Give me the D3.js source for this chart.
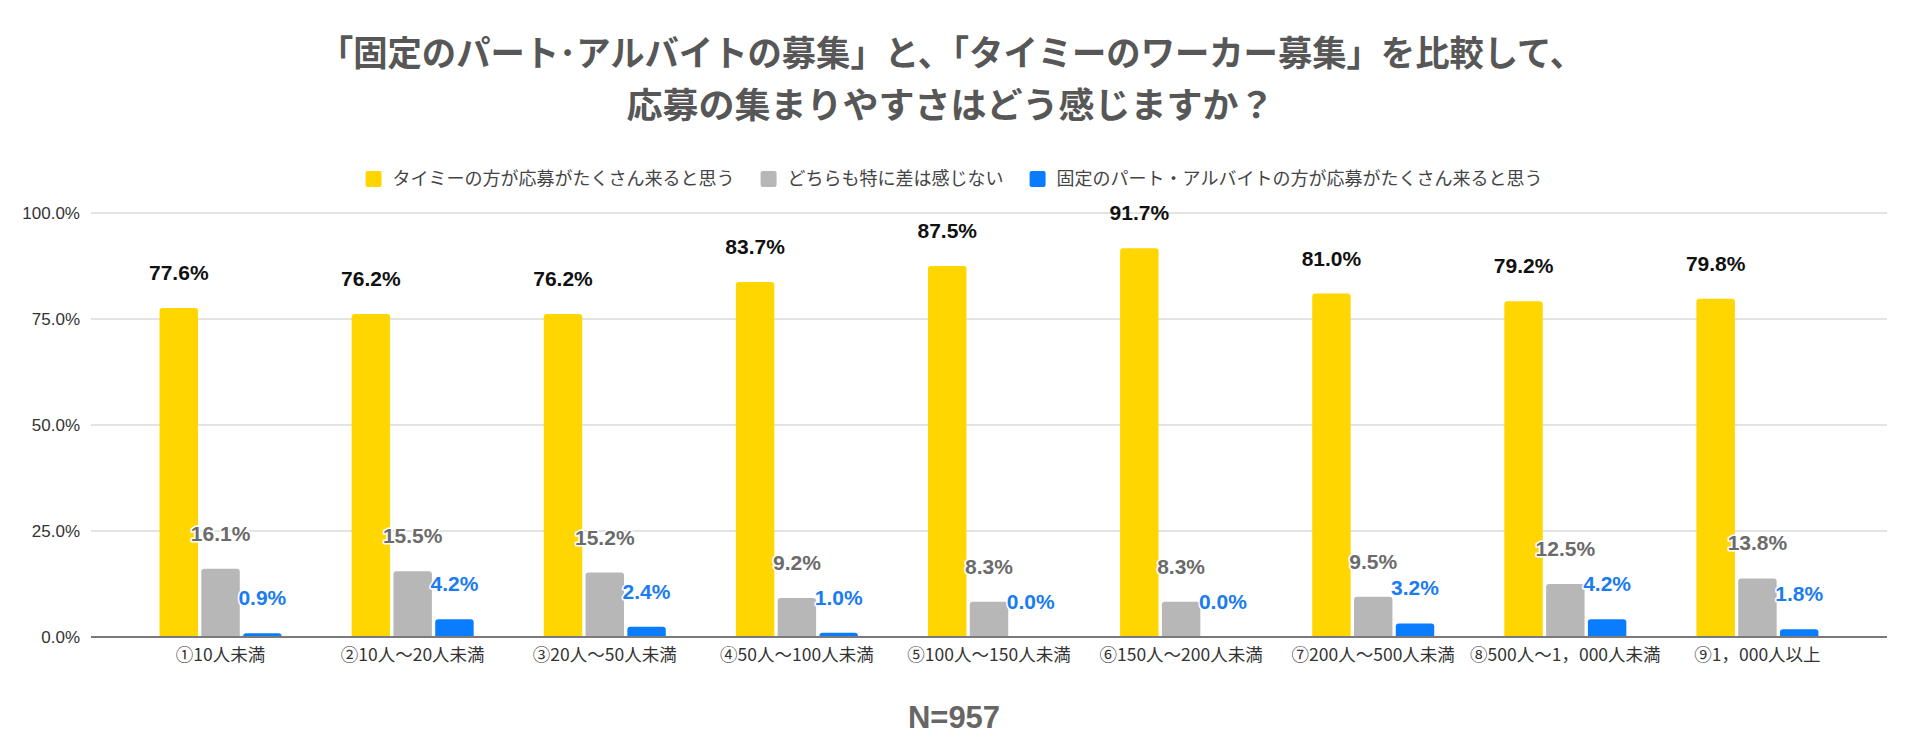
<!DOCTYPE html>
<html>
<head>
<meta charset="utf-8">
<script src="https://cdn.jsdelivr.net/npm/d3@7"></script>
<style>
  html, body { margin: 0; padding: 0; background: #fff; }
  body { position: relative; width: 1906px; height: 748px; overflow: hidden; }
  svg { display: block; }
</style>
</head>
<body>
<svg id="chart" width="1906" height="748"></svg>
<script>
// ---- data ----
const titleLines = [
  "「固定のパート･アルバイトの募集」と、「タイミーのワーカー募集」を比較して、",
  "応募の集まりやすさはどう感じますか？"
];
const categories = [
  "①10人未満", "②10人～20人未満", "③20人～50人未満", "④50人～100人未満",
  "⑤100人～150人未満", "⑥150人～200人未満", "⑦200人～500人未満",
  "⑧500人～1，000人未満", "⑨1，000人以上"
];
const seriesNames = [
  "タイミーの方が応募がたくさん来ると思う",
  "どちらも特に差は感じない",
  "固定のパート・アルバイトの方が応募がたくさん来ると思う"
];
const timeeValues = [77.6, 76.2, 76.2, 83.7, 87.5, 91.7, 81.0, 79.2, 79.8];
const sameValues  = [16.1, 15.5, 15.2, 9.2, 8.3, 8.3, 9.5, 12.5, 13.8];
const fixedValues = [0.9, 4.2, 2.4, 1.0, 0.0, 0.0, 3.2, 4.2, 1.8];
const yTicks = [0, 25, 50, 75, 100];
const footnote = "N=957";

// ---- style ----
const colors = ["#ffd600", "#b7b7b7", "#0a7cff"];
const labelColors = ["#111111", "#6b6b6b", "#1a7cf0"];
const seriesValues = [timeeValues, sameValues, fixedValues];

const svg = d3.select("#chart");
const W = 1906;
const plotLeft = 91, plotRight = 1887, plotTop = 213, plotBottom = 637;

const y = d3.scaleLinear().domain([0, 100]).range([plotBottom, plotTop]);
const x0 = d3.scaleBand().domain(categories).range([124.5, 1853.5]).paddingInner(0).paddingOuter(0);
const x1 = d3.scaleBand().domain(d3.range(3)).range([-61, 61]).paddingInner(0.08).paddingOuter(0);

// title: two lines in an HTML block with a fixed line height, each condensed to its width
const titleWidths = [1265, 648];
const titleDiv = d3.select("body").append("div")
  .style("position", "absolute")
  .style("left", "0px").style("top", "25px")
  .style("width", W - 4 + "px")
  .style("text-align", "center")
  .style("font-family", "'Noto Sans CJK JP', sans-serif")
  .style("font-weight", 700)
  .style("font-size", "35.5px")
  .style("line-height", "52px")
  .style("color", "#575757");
titleLines.forEach((t, i) => {
  const line = titleDiv.append("div").style("height", "52px");
  const span = line.append("span")
    .style("display", "inline-block")
    .style("white-space", "nowrap")
    .style("transform-origin", "50% 50%")
    .text(t);
  const w = span.node().getBoundingClientRect().width;
  span.style("transform", `scaleX(${titleWidths[i] / w})`);
});

// legend
const legend = svg.append("g");
let lx = 0;
const items = [];
const swatchGap = 27, itemGap = 26;
seriesNames.forEach((name, i) => {
  const g = legend.append("g");
  g.append("rect").attr("x", 0).attr("y", -8).attr("width", 16).attr("height", 16)
    .attr("rx", 2).attr("fill", colors[i]);
  const t = g.append("text").attr("x", swatchGap).attr("y", 0).attr("dy", "0.35em")
    .style("font-family", "'Noto Sans CJK JP', sans-serif")
    .style("font-size", "18px").style("fill", "#444").text(name);
  const w = t.node().getComputedTextLength();
  items.push({ g, w });
});
items.forEach((it, i) => {
  it.g.attr("transform", `translate(${lx},0)`);
  lx += swatchGap + it.w + (i < items.length - 1 ? itemGap : 0);
});
legend.attr("transform", `translate(${(372 + 1536) / 2 - lx / 2},179)`);

// gridlines
svg.append("g").selectAll("line").data(yTicks.filter(d => d !== 0)).join("line")
  .attr("x1", plotLeft).attr("x2", plotRight)
  .attr("y1", d => y(d)).attr("y2", d => y(d))
  .attr("stroke", "#dadada").attr("stroke-width", 1.3);

// y axis labels
const yAxis = d3.axisLeft(y).tickValues(yTicks).tickSize(0).tickPadding(11)
  .tickFormat(d => d3.format(".1f")(d) + "%");
const ya = svg.append("g").attr("transform", `translate(${plotLeft},0)`).call(yAxis);
ya.select(".domain").remove();
ya.selectAll("text")
  .style("font-family", "'Liberation Sans', Arial, sans-serif")
  .style("font-size", "17px").style("fill", "#333");

// bars
function barPath(x, yTop, w, h, r) {
  if (h <= 0) return "";
  r = Math.min(r, h, w / 2);
  return `M${x},${yTop + h}V${yTop + r}Q${x},${yTop} ${x + r},${yTop}H${x + w - r}Q${x + w},${yTop} ${x + w},${yTop + r}V${yTop + h}Z`;
}
const groups = svg.append("g").selectAll("g").data(categories).join("g")
  .attr("transform", d => `translate(${x0(d) + x0.bandwidth() / 2},0)`);

groups.each(function (cat, ci) {
  const g = d3.select(this);
  seriesValues.forEach((vals, si) => {
    const v = vals[ci];
    g.append("path")
      .attr("d", barPath(x1(si), y(v), x1.bandwidth(), y(0) - y(v), 3))
      .attr("fill", colors[si]);
  });
});

// baseline
svg.append("line").attr("x1", plotLeft).attr("x2", plotRight)
  .attr("y1", y(0)).attr("y2", y(0))
  .attr("stroke", "#7a7a7a").attr("stroke-width", 2);

// value labels
groups.each(function (cat, ci) {
  const g = d3.select(this);
  seriesValues.forEach((vals, si) => {
    const v = vals[ci];
    g.append("text")
      .attr("x", x1(si) + x1.bandwidth() / 2)
      .attr("y", y(v) - 28)
      .attr("text-anchor", "middle")
      .style("font-family", "'Liberation Sans', Arial, sans-serif")
      .style("font-weight", 700)
      .style("font-size", "21px")
      .style("fill", labelColors[si])
      .style("stroke", "#fff").style("stroke-width", si === 0 ? 0 : 3)
      .style("paint-order", "stroke")
      .style("stroke-linejoin", "round")
      .text(d3.format(".1f")(v) + "%");
  });
});

// category labels
groups.append("text")
  .attr("x", 0).attr("y", 655).attr("dy", "0.35em")
  .attr("text-anchor", "middle")
  .style("font-family", "'Noto Sans CJK JP', sans-serif")
  .style("font-size", "17.5px").style("fill", "#333")
  .text(d => d);

// footnote
svg.append("text").attr("x", 954).attr("y", 728)
  .attr("text-anchor", "middle")
  .style("font-family", "'Liberation Sans', Arial, sans-serif")
  .style("font-weight", 700).style("font-size", "31px").style("fill", "#666")
  .text(footnote);
</script>
</body>
</html>
